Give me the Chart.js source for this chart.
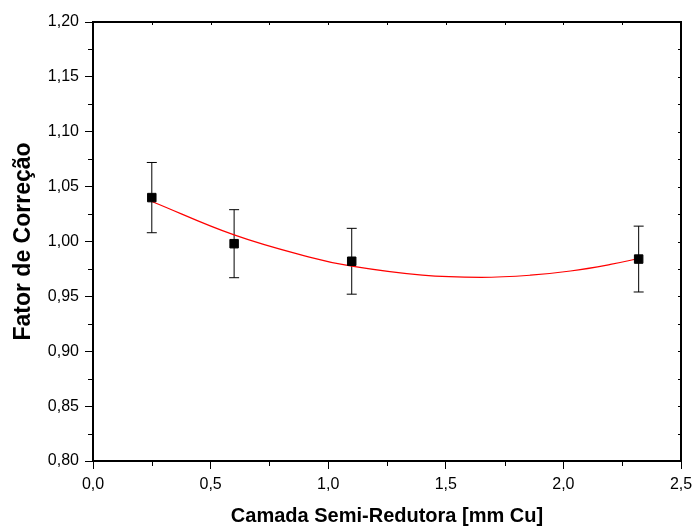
<!DOCTYPE html>
<html>
<head>
<meta charset="utf-8">
<script src="https://cdn.jsdelivr.net/npm/chart.js@4.4.1/dist/chart.umd.min.js"></script>
<style>
 html, body { margin: 0; padding: 0; background: #fff; }
 #wrap { width: 694px; height: 529px; position: relative; }
</style>
</head>
<body>
<div id="wrap"><canvas id="chart"></canvas></div>
<script>
/* ── DATA ───────────────────────────────────────────── */
const hvlX = [0.25, 0.60, 1.10, 2.32];
const factorY = [1.040, 0.998, 0.982, 0.984];
const factorErr = [0.032, 0.031, 0.030, 0.030];

// fitted curve
const fitX = [0.25, 0.60, 0.92, 1.10, 1.40, 1.65, 1.86, 2.03, 2.20, 2.32];
const fitY = [1.0365, 1.0060, 0.9858, 0.9775, 0.9693, 0.9674, 0.9693, 0.9731, 0.9791, 0.9845];

const xTicks = [0, 0.5, 1.0, 1.5, 2.0, 2.5];
const yTicks = [0.80, 0.85, 0.90, 0.95, 1.00, 1.05, 1.10, 1.15, 1.20];

const FONT = "'Liberation Sans', Arial, Helvetica, sans-serif";

/* ── PLUGINS ────────────────────────────────────────── */
const errorBars = {
 id: 'errorBars',
 beforeDatasetsDraw(chart) {
 const { ctx, scales: { x, y } } = chart;
 ctx.save();
 ctx.strokeStyle = '#000';
 ctx.lineWidth = 1;
 hvlX.forEach((v, i) => {
 const px = x.getPixelForValue(v);
 const top = y.getPixelForValue(factorY[i] + factorErr[i]);
 const bot = y.getPixelForValue(factorY[i] - factorErr[i]);
 ctx.beginPath();
 ctx.moveTo(px, top); ctx.lineTo(px, bot);
 ctx.moveTo(px - 5, top); ctx.lineTo(px + 5, top);
 ctx.moveTo(px - 5, bot); ctx.lineTo(px + 5, bot);
 ctx.stroke();
 });
 ctx.restore();
 }
};

const frame = {
 id: 'frame',
 afterDraw(chart) {
 const { ctx, chartArea: a, scales: { x, y } } = chart;
 ctx.save();
 ctx.strokeStyle = '#000';
 // top + right border
 ctx.lineWidth = 2;
 ctx.beginPath();
 ctx.moveTo(a.left, a.top); ctx.lineTo(a.right, a.top); ctx.lineTo(a.right, a.bottom);
 ctx.stroke();
 ctx.lineWidth = 1;
 ctx.beginPath();
 // minor ticks, left + bottom (outward)
 for (let i = 0; i < yTicks.length - 1; i++) {
 const py = Math.round(y.getPixelForValue((yTicks[i] + yTicks[i + 1]) / 2)) + 0.5;
 ctx.moveTo(a.left - 5, py); ctx.lineTo(a.left, py);
 }
 for (let i = 0; i < xTicks.length - 1; i++) {
 const px = Math.round(x.getPixelForValue((xTicks[i] + xTicks[i + 1]) / 2)) + 0.5;
 ctx.moveTo(px, a.bottom); ctx.lineTo(px, a.bottom + 5);
 }
 // small inward ticks, top + right
 for (let i = 0; i < xTicks.length - 1; i++) {
 [xTicks[i], (xTicks[i] + xTicks[i + 1]) / 2].forEach(v => {
 const px = Math.round(x.getPixelForValue(v)) + 0.5;
 ctx.moveTo(px, a.top); ctx.lineTo(px, a.top + 3);
 });
 }
 for (let i = 0; i < yTicks.length - 1; i++) {
 [yTicks[i], (yTicks[i] + yTicks[i + 1]) / 2].forEach(v => {
 const py = Math.round(y.getPixelForValue(v)) + 0.5;
 ctx.moveTo(a.right - 3, py); ctx.lineTo(a.right, py);
 });
 }
 ctx.stroke();
 ctx.restore();
 }
};

/* ── CHART ──────────────────────────────────────────── */
new Chart(document.getElementById('chart'), {
 type: 'scatter',
 data: {
 datasets: [{
 label: 'Fator',
 data: hvlX.map((v, i) => ({ x: v, y: factorY[i] })),
 pointStyle: 'rect',
 pointRadius: 6,
 pointBackgroundColor: '#000',
 pointBorderColor: '#000',
 pointBorderWidth: 1
 }, {
 label: 'Ajuste',
 data: fitX.map((v, i) => ({ x: v, y: fitY[i] })),
 showLine: true,
 borderColor: '#ff0000',
 borderWidth: 1.2,
 pointRadius: 0,
 tension: 0.4
 }]
 },
 options: {
 responsive: true,
 maintainAspectRatio: false,
 animation: false,
 layout: { padding: { top: 22, right: 13, left: 0, bottom: 0 } },
 plugins: { legend: { display: false }, tooltip: { enabled: false } },
 scales: {
 x: {
 type: 'linear', min: 0, max: 2.5,
 afterBuildTicks: s => { s.ticks = xTicks.map(v => ({ value: v })); },
 afterFit: s => { s.height = 68; s.paddingLeft = 0; s.paddingRight = 0; },
 grid: { drawOnChartArea: false, tickLength: 8, tickColor: '#000', tickWidth: 1 },
 border: { display: true, color: '#000', width: 2 },
 ticks: { color: '#000', padding: 6, font: { family: FONT, size: 16 }, maxRotation: 0,
 callback: v => v.toFixed(1).replace('.', ',') },
 title: { display: true, text: 'Camada Semi-Redutora [mm Cu]', color: '#000',
 font: { family: FONT, size: 20, weight: 'bold' }, padding: { top: 0, bottom: 1 } }
 },
 y: {
 type: 'linear', min: 0.8, max: 1.2,
 afterBuildTicks: s => { s.ticks = yTicks.map(v => ({ value: v })); },
 afterFit: s => { s.width = 93; s.paddingTop = 0; s.paddingBottom = 0; },
 grid: { drawOnChartArea: false, tickLength: 8, tickColor: '#000', tickWidth: 1 },
 border: { display: true, color: '#000', width: 2 },
 ticks: { color: '#000', padding: 6, font: { family: FONT, size: 16 },
 callback: v => v.toFixed(2).replace('.', ',') },
 title: { display: true, text: 'Fator de Correção', color: '#000',
 font: { family: FONT, size: 23, weight: 'bold' }, padding: { top: 10, bottom: 0 } }
 }
 }
 },
 plugins: [errorBars, frame]
});
</script>
</body>
</html>
